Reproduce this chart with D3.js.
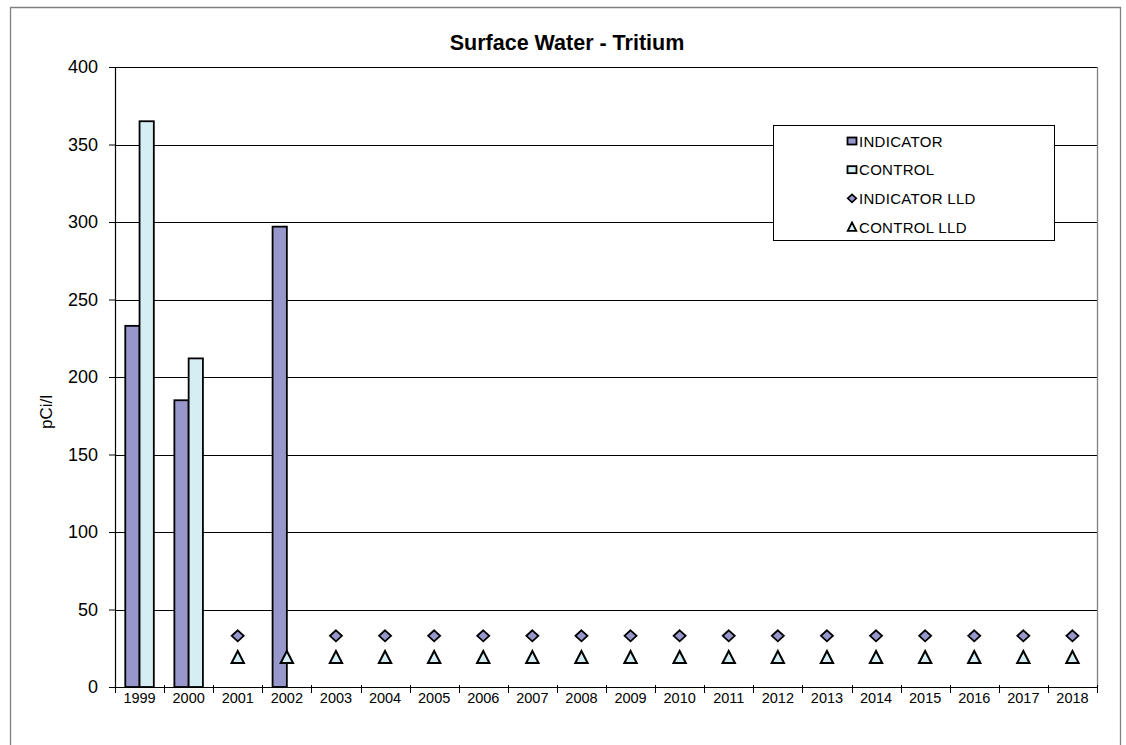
<!DOCTYPE html>
<html><head><meta charset="utf-8">
<script src="https://cdn.jsdelivr.net/npm/d3@7"></script>
<style>body{margin:0;background:#fff}svg{display:block;font-family:"Liberation Sans",Arial,sans-serif}</style>
</head><body><svg id="c" width="1126" height="745"></svg>
<script>
const years = ["1999","2000","2001","2002","2003","2004","2005","2006","2007","2008","2009","2010","2011","2012","2013","2014","2015","2016","2017","2018"];
const indicator = [233, 185, null, 297, null, null, null, null, null, null, null, null, null, null, null, null, null, null, null, null];
const control = [365, 212, null, null, null, null, null, null, null, null, null, null, null, null, null, null, null, null, null, null];
const indicatorLLD = [null, null, 33, null, 33, 33, 33, 33, 33, 33, 33, 33, 33, 33, 33, 33, 33, 33, 33, 33];
const controlLLD = [null, null, 19, 19, 19, 19, 19, 19, 19, 19, 19, 19, 19, 19, 19, 19, 19, 19, 19, 19];
const yTicks = [0, 50, 100, 150, 200, 250, 300, 350, 400];
const legendItems = ["INDICATOR", "CONTROL", "INDICATOR LLD", "CONTROL LLD"];

const C_IND = "#9797cb", C_CTL = "#d4eef4";
const svg = d3.select("#c");
const L = 115, R = 1097, T = 67, B = 687;

// custom marker shapes (size = half-width)
const diamondType = {draw(ctx, s) { ctx.moveTo(0, -s * 0.92); ctx.lineTo(s, 0); ctx.lineTo(0, s * 0.92); ctx.lineTo(-s, 0); ctx.closePath(); }};
const triType = {draw(ctx, s) { ctx.moveTo(0, -s); ctx.lineTo(s * 0.95, s * 0.85); ctx.lineTo(-s * 0.95, s * 0.85); ctx.closePath(); }};

// outer border
svg.append("path").attr("d", "M10.5,760V7.5H1120.5V760").attr("fill", "none").attr("stroke", "#808080").attr("stroke-width", 1.3);

const x = d3.scaleBand().domain(years).range([L, R]).paddingInner(0).paddingOuter(0);
const sub = d3.scaleBand().domain(["ind", "ctl"]).range([0, x.bandwidth()]).paddingInner(0).paddingOuter(0.72);
const y = d3.scaleLinear().domain([0, 400]).range([B, T]);

// gridlines
svg.append("g").selectAll("line").data(yTicks.filter(d => d > 0)).join("line")
  .attr("x1", L).attr("x2", R).attr("y1", d => Math.round(y(d)) + 0.5).attr("y2", d => Math.round(y(d)) + 0.5)
  .attr("stroke", "#000").attr("stroke-width", 1);
// right plot border
svg.append("line").attr("x1", R + 0.5).attr("x2", R + 0.5).attr("y1", T).attr("y2", B).attr("stroke", "#808080").attr("stroke-width", 1.3);

// bars
const bars = [];
years.forEach((yr, i) => {
  if (indicator[i] != null) bars.push({yr, k: "ind", v: indicator[i], c: C_IND});
  if (control[i] != null) bars.push({yr, k: "ctl", v: control[i], c: C_CTL});
});
svg.append("g").selectAll("rect").data(bars).join("rect")
  .attr("x", d => x(d.yr) + sub(d.k)).attr("width", sub.bandwidth())
  .attr("y", d => y(d.v)).attr("height", d => y(0) - y(d.v))
  .attr("fill", d => d.c).attr("stroke", "#000").attr("stroke-width", 1.8);

// axes
const yAxis = svg.append("g").attr("transform", `translate(${L},0)`)
  .call(d3.axisLeft(y).tickValues(yTicks).tickSize(6).tickPadding(11).tickSizeOuter(0));
yAxis.select(".domain").attr("stroke", "#000").attr("stroke-width", 1.2);
yAxis.selectAll(".tick line").attr("stroke", "#000");
yAxis.selectAll("text").attr("font-size", 18).attr("fill", "#000").attr("font-family", "Liberation Sans, Arial, sans-serif");

const xAxis = svg.append("g").attr("transform", `translate(0,${B})`)
  .call(d3.axisBottom(x).tickSize(0).tickPadding(6).tickSizeOuter(0));
xAxis.select(".domain").remove();
xAxis.selectAll("text").attr("font-size", 14.5).attr("fill", "#000").attr("font-family", "Liberation Sans, Arial, sans-serif");
svg.append("line").attr("x1", L - 6).attr("x2", R).attr("y1", B + 0.5).attr("y2", B + 0.5).attr("stroke", "#000").attr("stroke-width", 1.2);
// x boundary ticks
const bounds = years.map(d => x(d)).concat([R]);
svg.append("g").selectAll("line").data(bounds).join("line")
  .attr("x1", d => Math.round(d) + 0.5).attr("x2", d => Math.round(d) + 0.5)
  .attr("y1", B - 2).attr("y2", B + 6).attr("stroke", "#000");

// LLD markers
svg.append("g").selectAll("path").data(years.map((yr, i) => ({yr, v: indicatorLLD[i]})).filter(d => d.v != null)).join("path")
  .attr("transform", d => `translate(${x(d.yr) + x.bandwidth() / 2},${y(d.v)})`)
  .attr("d", d3.symbol().type(diamondType).size(6)).attr("fill", C_IND).attr("stroke", "#000").attr("stroke-width", 1.8);
svg.append("g").selectAll("path").data(years.map((yr, i) => ({yr, v: controlLLD[i]})).filter(d => d.v != null)).join("path")
  .attr("transform", d => `translate(${x(d.yr) + x.bandwidth() / 2},${y(d.v)})`)
  .attr("d", d3.symbol().type(triType).size(6.5)).attr("fill", C_CTL).attr("stroke", "#000").attr("stroke-width", 2);

// title
svg.append("text").attr("x", 567).attr("y", 50).attr("text-anchor", "middle")
  .attr("font-size", 21.5).attr("font-weight", "bold").text("Surface Water - Tritium");
// y label
svg.append("text").attr("transform", "translate(52,412) rotate(-90)").attr("text-anchor", "middle")
  .attr("font-size", 17).text("pCi/l");

// legend
const lg = svg.append("g");
lg.append("rect").attr("x", 773.5).attr("y", 125.5).attr("width", 281).attr("height", 115)
  .attr("fill", "#fff").attr("stroke", "#000").attr("stroke-width", 1);
const rowY = d3.scalePoint().domain(legendItems).range([141, 227]);
const mk = lg.selectAll("g").data(legendItems).join("g").attr("transform", d => `translate(852,${rowY(d)})`);
mk.filter((d, i) => i < 2).append("rect").attr("x", -4.5).attr("y", -3.5).attr("width", 9).attr("height", 7)
  .attr("fill", (d, i) => i === 0 ? C_IND : C_CTL).attr("stroke", "#000").attr("stroke-width", 1.8);
mk.filter((d, i) => i === 2).append("path").attr("d", d3.symbol().type(diamondType).size(4.3))
  .attr("fill", C_IND).attr("stroke", "#000").attr("stroke-width", 1.6);
mk.filter((d, i) => i === 3).append("path").attr("d", d3.symbol().type(triType).size(4.5))
  .attr("fill", C_CTL).attr("stroke", "#000").attr("stroke-width", 1.8);
mk.append("text").attr("x", 7).attr("y", 5.5).attr("font-size", 15).attr("letter-spacing", 0.3).text(d => d);
</script></body></html>
